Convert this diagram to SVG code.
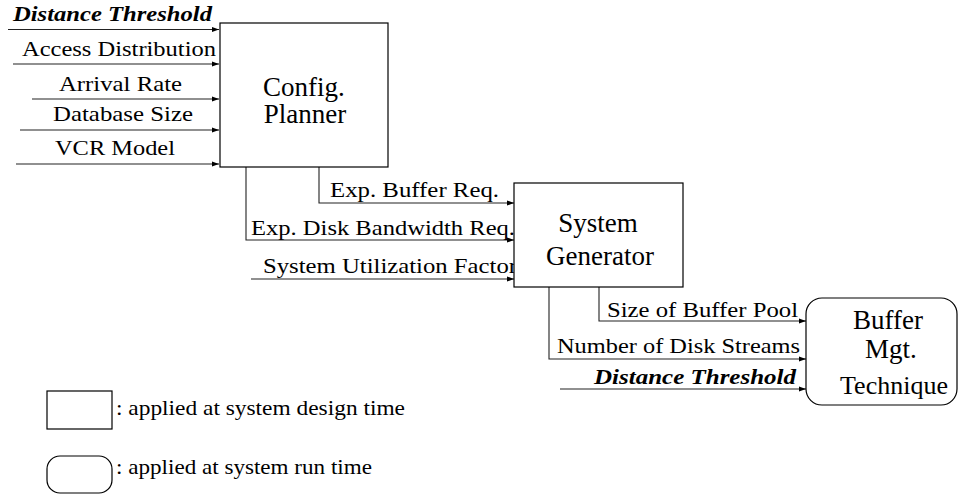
<svg xmlns="http://www.w3.org/2000/svg" width="958" height="494" viewBox="0 0 958 494">
<style>
.box{fill:#fff;stroke:#000;stroke-width:1.2}
.ln{fill:none;stroke:#222;stroke-width:1.1}
.t{font-family:"Liberation Serif","Times New Roman",serif;font-size:22px;fill:#000}
.bi{font-weight:bold;font-style:italic}
.title{font-family:"Liberation Serif","Times New Roman",serif;font-size:27px;fill:#000;text-anchor:middle}
</style>
<defs>
<marker id="ah" markerUnits="userSpaceOnUse" markerWidth="8" markerHeight="6" refX="7" refY="3" orient="auto">
<path d="M0,0.5 L7,3 L0,5.5 Z" fill="#000"/>
</marker>
</defs>
<rect width="958" height="494" fill="#fff"/>
<g id="connectors">
<path class="ln" d="M8,29.5 H219" marker-end="url(#ah)"/>
<path class="ln" d="M13,64 H219" marker-end="url(#ah)"/>
<path class="ln" d="M32,99 H219" marker-end="url(#ah)"/>
<path class="ln" d="M20,130 H219" marker-end="url(#ah)"/>
<path class="ln" d="M16,164 H219" marker-end="url(#ah)"/>
<path class="ln" d="M319,167 V203 H514" marker-end="url(#ah)"/>
<path class="ln" d="M246,167 V240 H514" marker-end="url(#ah)"/>
<path class="ln" d="M251,279 H514" marker-end="url(#ah)"/>
<path class="ln" d="M599,287 V321 H806" marker-end="url(#ah)"/>
<path class="ln" d="M549,287 V359 H806" marker-end="url(#ah)"/>
<path class="ln" d="M560,389 H806" marker-end="url(#ah)"/>
</g>
<g id="labels">
<text class="t bi" x="13" y="21" textLength="199" lengthAdjust="spacingAndGlyphs">Distance Threshold</text>
<text class="t" x="22" y="56" textLength="194" lengthAdjust="spacingAndGlyphs">Access Distribution</text>
<text class="t" x="59" y="91" textLength="123" lengthAdjust="spacingAndGlyphs">Arrival Rate</text>
<text class="t" x="53" y="121" textLength="140" lengthAdjust="spacingAndGlyphs">Database Size</text>
<text class="t" x="55" y="155" textLength="120" lengthAdjust="spacingAndGlyphs">VCR Model</text>
<text class="t" x="330" y="197" textLength="169" lengthAdjust="spacingAndGlyphs">Exp. Buffer Req.</text>
<text class="t" x="251" y="235" textLength="264" lengthAdjust="spacingAndGlyphs">Exp. Disk Bandwidth Req.</text>
<text class="t" x="263" y="273" textLength="254" lengthAdjust="spacingAndGlyphs">System Utilization Factor</text>
<text class="t" x="607" y="317" textLength="191" lengthAdjust="spacingAndGlyphs">Size of Buffer Pool</text>
<text class="t" x="557" y="353" textLength="243" lengthAdjust="spacingAndGlyphs">Number of Disk Streams</text>
<text class="t bi" x="594" y="384" textLength="202" lengthAdjust="spacingAndGlyphs">Distance Threshold</text>
</g>
<g id="config-planner">
<rect class="box" x="220" y="23" width="168" height="144"/>
<text class="title" x="304" y="96">Config.</text>
<text class="title" x="305" y="123">Planner</text>
</g>
<g id="system-generator">
<rect class="box" x="514" y="183" width="169" height="104"/>
<text class="title" x="598" y="232">System</text>
<text class="title" x="600" y="265">Generator</text>
</g>
<g id="buffer-mgt">
<rect class="box" x="806" y="298" width="151" height="107" rx="16" ry="16"/>
<text class="title" x="888" y="329">Buffer</text>
<text class="title" x="891" y="358">Mgt.</text>
<text class="title" x="894" y="394" style="font-size:26px">Technique</text>
</g>
<g id="legend">
<rect class="box" x="47" y="391" width="65" height="38"/>
<text class="t" x="116" y="415" textLength="289" lengthAdjust="spacingAndGlyphs">: applied at system design time</text>
<rect class="box" x="47" y="456" width="65" height="37" rx="13" ry="13"/>
<text class="t" x="116" y="474" textLength="256" lengthAdjust="spacingAndGlyphs">: applied at system run time</text>
</g>
</svg>
